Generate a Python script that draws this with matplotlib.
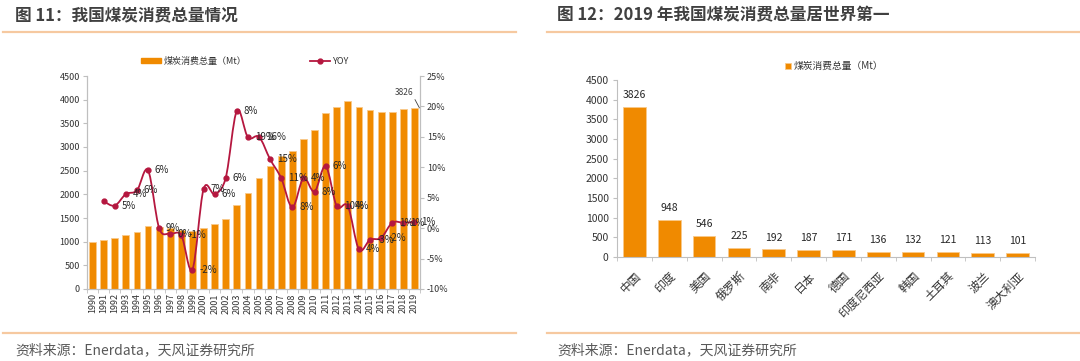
import matplotlib
matplotlib.use('Agg')
import matplotlib.pyplot as plt
from matplotlib.lines import Line2D
from matplotlib.patches import Patch, PathPatch
from matplotlib.path import Path
import numpy as np

plt.rcParams['font.family'] = ['Noto Sans CJK SC', 'DejaVu Sans']

# ---------------- data ----------------
years = list(range(1990, 2020))
consumption = [986, 1035, 1070, 1134, 1211, 1324, 1320, 1290, 1250, 1225,
               1296, 1366, 1479, 1775, 2035, 2340, 2598, 2810, 2925, 3165,
               3355, 3710, 3840, 3975, 3840, 3780, 3735, 3748, 3796, 3826]
yoy = [np.nan, 4.4, 3.7, 5.6, 6.2, 9.5, 0.0, -0.9, -1.2, -6.8,
       6.4, 5.6, 8.3, 19.3, 14.9, 15.0, 11.3, 8.2, 3.4, 8.2,
       6.0, 10.2, 3.6, 3.6, -3.5, -1.9, -1.6, 0.9, 0.9, 1.0]
yoy_labels = ['', '', '5%', '4%', '6%', '6%', '9%', '0%', '-1%', '-2%',
              '7%', '6%', '6%', '8%', '19%', '16%', '15%', '11%', '8%', '4%',
              '8%', '6%', '10%', '4%', '4%', '-3%', '-2%', '1%', '1%', '1%']
left_ticks = [0, 500, 1000, 1500, 2000, 2500, 3000, 3500, 4000, 4500]
right_ticks = [-10, -5, 0, 5, 10, 15, 20, 25]

countries = ['中国', '印度', '美国', '俄罗斯', '南非', '日本', '德国',
             '印度尼西亚', '韩国', '土耳其', '波兰', '澳大利亚']
country_values = [3826, 948, 546, 225, 192, 187, 171, 136, 132, 121, 113, 101]

title_left = '图 11：我国煤炭消费总量情况'
title_right = '图 12：2019 年我国煤炭消费总量居世界第一'
source = '资料来源：Enerdata，天风证券研究所'
legend_bar = '煤炭消费总量（Mt）'

# ---------------- style ----------------
ORANGE = '#F08A00'
EDGE = '#F9C98A'
RED = '#B5173F'
AXIS = '#BFBFBF'
TXT = '#404040'
PEACH = '#F6C9A0'

W, H = 1080, 361
fig = plt.figure(figsize=(W / 100, H / 100), dpi=100)


def fx(px):
    return px / W


def fy(py):
    return 1 - py / H


def smooth_path(xs, ys):
    """Excel-like smoothed line: Catmull-Rom segments rendered as cubic Beziers."""
    pts = np.column_stack([xs, ys])
    verts = [pts[0]]
    codes = [Path.MOVETO]
    n = len(pts)
    for i in range(n - 1):
        p0 = pts[i - 1] if i > 0 else pts[i]
        p1 = pts[i]
        p2 = pts[i + 1]
        p3 = pts[i + 2] if i + 2 < n else pts[i + 1]
        c1 = p1 + (p2 - p0) / 6.0
        c2 = p2 - (p3 - p1) / 6.0
        verts += [c1, c2, p2]
        codes += [Path.CURVE4] * 3
    return Path(verts, codes)


# header / footer decorations
for x0, x1, tx, title in [(3, 516, 15, title_left), (547, 1079, 557, title_right)]:
    fig.add_artist(Line2D([fx(x0), fx(x1)], [fy(31.5), fy(31.5)], color=PEACH, lw=1.6))
    fig.add_artist(Line2D([fx(x0), fx(x1)], [fy(333), fy(333)], color=PEACH, lw=1.6))
    fig.text(fx(tx), fy(15), title, fontsize=12, fontweight='bold', color=TXT,
             ha='left', va='center')
    fig.text(fx(tx), fy(350), source, fontsize=10, color='#595959',
             ha='left', va='center')

# ---------------- left chart ----------------
axl = fig.add_axes([fx(87), fy(289), fx(420) - fx(87), fy(76) - fy(289)])
x = np.arange(len(years))
axl.bar(x, consumption, width=0.62, color=ORANGE, edgecolor=EDGE, linewidth=0.6, zorder=2)
axl.set_xlim(-0.5, len(years) - 0.5)
axl.set_ylim(0, 4500)
axl.set_yticks(left_ticks)
axl.set_yticklabels([str(v) for v in left_ticks], fontsize=6.5, color='#333333')
axl.set_xticks(x)
axl.set_xticklabels([str(y) for y in years], rotation=90, fontsize=6.5, color='#333333')
axl.tick_params(axis='x', length=0, pad=3)
axl.tick_params(axis='y', length=3, color=AXIS, pad=2)
axl.set_xticks(np.arange(-0.5, len(years), 1), minor=True)
axl.tick_params(axis='x', which='minor', length=3, color=AXIS)
axl.spines['top'].set_visible(False)
for s in ['left', 'bottom', 'right']:
    axl.spines[s].set_color(AXIS)
    axl.spines[s].set_linewidth(0.8)

axl.annotate(str(consumption[-1]), xy=(x[-1] + 0.45, consumption[-1]),
             xytext=(-11, 8), textcoords='offset points', fontsize=6, color=TXT,
             ha='center', va='bottom',
             arrowprops=dict(arrowstyle='-', color='#404040', lw=0.6,
                             shrinkA=0, shrinkB=0, relpos=(1.0, 0.0)))

axr = axl.twinx()
yoy_arr = np.array(yoy, dtype=float)
valid = ~np.isnan(yoy_arr)
axr.add_patch(PathPatch(smooth_path(x[valid].astype(float), yoy_arr[valid]),
                        fill=False, edgecolor=RED, lw=1.3, zorder=3))
axr.plot(x, yoy_arr, linestyle='none', color=RED, marker='o', markersize=3.5, zorder=3)
axr.set_ylim(-10, 25)
axr.set_yticks(right_ticks)
axr.set_yticklabels([f'{v}%' for v in right_ticks], fontsize=6.5, color='#333333')
axr.tick_params(axis='y', length=3, color=AXIS, pad=2)
axr.spines['top'].set_visible(False)
for s in ['left', 'bottom', 'right']:
    axr.spines[s].set_color(AXIS)
    axr.spines[s].set_linewidth(0.8)
for xi, v, lab in zip(x, yoy_arr, yoy_labels):
    if lab and not np.isnan(v):
        axr.annotate(lab, xy=(xi, v), xytext=(5, 0), textcoords='offset points',
                     fontsize=7, color='#262626', ha='left', va='center', zorder=4)

handles = [Patch(facecolor=ORANGE, edgecolor=ORANGE),
           Line2D([0], [0], color=RED, lw=1.3, marker='o', markersize=3.5)]
axl.legend(handles, [legend_bar, 'YOY'], ncol=2, loc='lower center',
           bbox_to_anchor=(0.475, 1.01), frameon=False, fontsize=6.5,
           columnspacing=7, handlelength=2.2, handleheight=0.5, handletextpad=0.3,
           labelcolor='#333333')

# ---------------- right chart ----------------
ax2 = fig.add_axes([fx(617), fy(257), fx(1035) - fx(617), fy(80) - fy(257)])
xc = np.arange(len(countries))
ax2.bar(xc, country_values, width=0.65, color=ORANGE, edgecolor=EDGE,
        linewidth=0.6, label=legend_bar)
ax2.set_xlim(-0.5, len(countries) - 0.5)
ax2.set_ylim(0, 4500)
ax2.set_yticks(left_ticks)
ax2.set_yticklabels([str(v) for v in left_ticks], fontsize=7.5, color='#333333')
ax2.tick_params(axis='y', length=3, color=AXIS, pad=3)
ax2.set_xticks(xc)
ax2.set_xticklabels(countries, rotation=45, ha='right', rotation_mode='anchor',
                    fontsize=8.5, color='#333333')
ax2.tick_params(axis='x', length=0, pad=9)
ax2.set_xticks(np.arange(-0.5, len(countries), 1), minor=True)
ax2.tick_params(axis='x', which='minor', length=3, color=AXIS)
for s in ['top', 'right']:
    ax2.spines[s].set_visible(False)
for s in ['left', 'bottom']:
    ax2.spines[s].set_color(AXIS)
    ax2.spines[s].set_linewidth(0.8)
for xi, v in zip(xc, country_values):
    ax2.annotate(str(v), xy=(xi, v), xytext=(0, 5), textcoords='offset points',
                 fontsize=7.5, color='#262626', ha='center', va='bottom')
ax2.legend(loc='lower center', bbox_to_anchor=(0.52, 1.0), frameon=False,
           fontsize=7, handlelength=0.6, handleheight=0.6, handletextpad=0.3,
           labelcolor='#333333')

fig.savefig('out.png', dpi=100)
